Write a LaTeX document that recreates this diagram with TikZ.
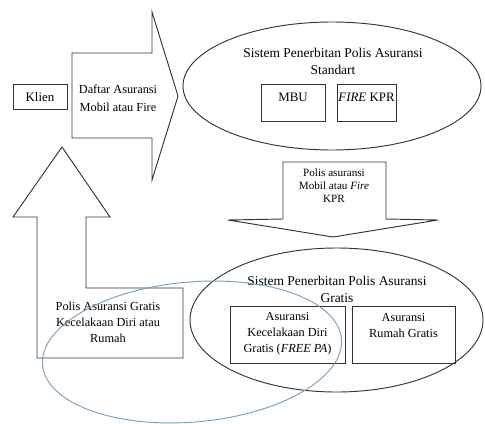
\documentclass[tikz,border=0pt]{standalone}
\usepackage{fontspec}
\setmainfont{Liberation Serif}
\usetikzlibrary{calc}
\definecolor{ovalblue}{RGB}{120,160,190}
\newcommand{\txtsmall}{\fontsize{10.5}{13.6}\selectfont}
\newcommand{\txttitle}{\fontsize{11.5}{14.5}\selectfont}

\begin{document}
\begin{tikzpicture}[x=0.03cm,y=-0.03cm,line width=0.8pt,draw=black!80,
    lbl/.style={align=center,inner sep=0pt,font=\txtsmall}]
      \useasboundingbox (0,0) rectangle (485,423);

      % block arrows
      \draw (72,53) -- (152,53) -- (152,12) -- (178,96) -- (152,180) -- (152,138) -- (72,138) -- cycle;
      \draw (283,162) -- (386,162) -- (386,219) -- (438,220) -- (333,237) -- (228,220) -- (283,219) -- cycle;
      \draw (37,358) -- (37,217) -- (13,217) -- (62,147) -- (110,217) -- (86,217) -- (86,288) -- (183,288) -- (183,358) -- cycle;

      % ovals
      \draw (332,86) ellipse [x radius=149, y radius=64];
      \draw (336.5,320) ellipse [x radius=146.5, y radius=72];

      % boxes
      \draw (13,84) rectangle (67,109);
      \draw (261,84) rectangle (325,121);
      \draw (337,84) rectangle (396,121);
      \draw (230,306) rectangle (345,363);
      \draw (352,306) rectangle (455,363);

      \node[lbl,font=\fontsize{11}{13}\selectfont] (klien) at (40,97) {Klien};
      \node[lbl] (daftar) at (118,98) {Daftar Asuransi\\[2pt] Mobil atau Fire};
      \node[lbl,font=\txttitle] (standar) at (333,61.5) {Sistem Penerbitan Polis Asuransi\\ Standart};
      \node[lbl,font=\fontsize{11}{13}\selectfont] (mbu) at (293,97) {MBU};
      \node[lbl,font=\fontsize{11}{13}\selectfont] (fire) at (366.5,97) {\textit{FIRE} KPR};
      \node[lbl,font=\fontsize{9.5}{11}\selectfont] (polis) at (334,186) {Polis asuransi\\ Mobil atau \textit{Fire}\\ KPR};
      \node[lbl,font=\txttitle] (gratis) at (337,289) {Sistem Penerbitan Polis Asuransi\\ Gratis};
      \node[lbl] (pa) at (287.5,334) {Asuransi\\ Kecelakaan Diri\\ Gratis (\textit{FREE PA})};
      \node[lbl] (rumah) at (403.5,325.5) {Asuransi\\ Rumah Gratis};
      \node[lbl] (balik) at (108,322.5) {Polis Asuransi Gratis\\ Kecelakaan Diri atau\\ Rumah};

      \draw[ovalblue,rotate around={5:(192,352)}] (192,352) ellipse [x radius=150, y radius=70];
    \end{tikzpicture}
\end{document}
